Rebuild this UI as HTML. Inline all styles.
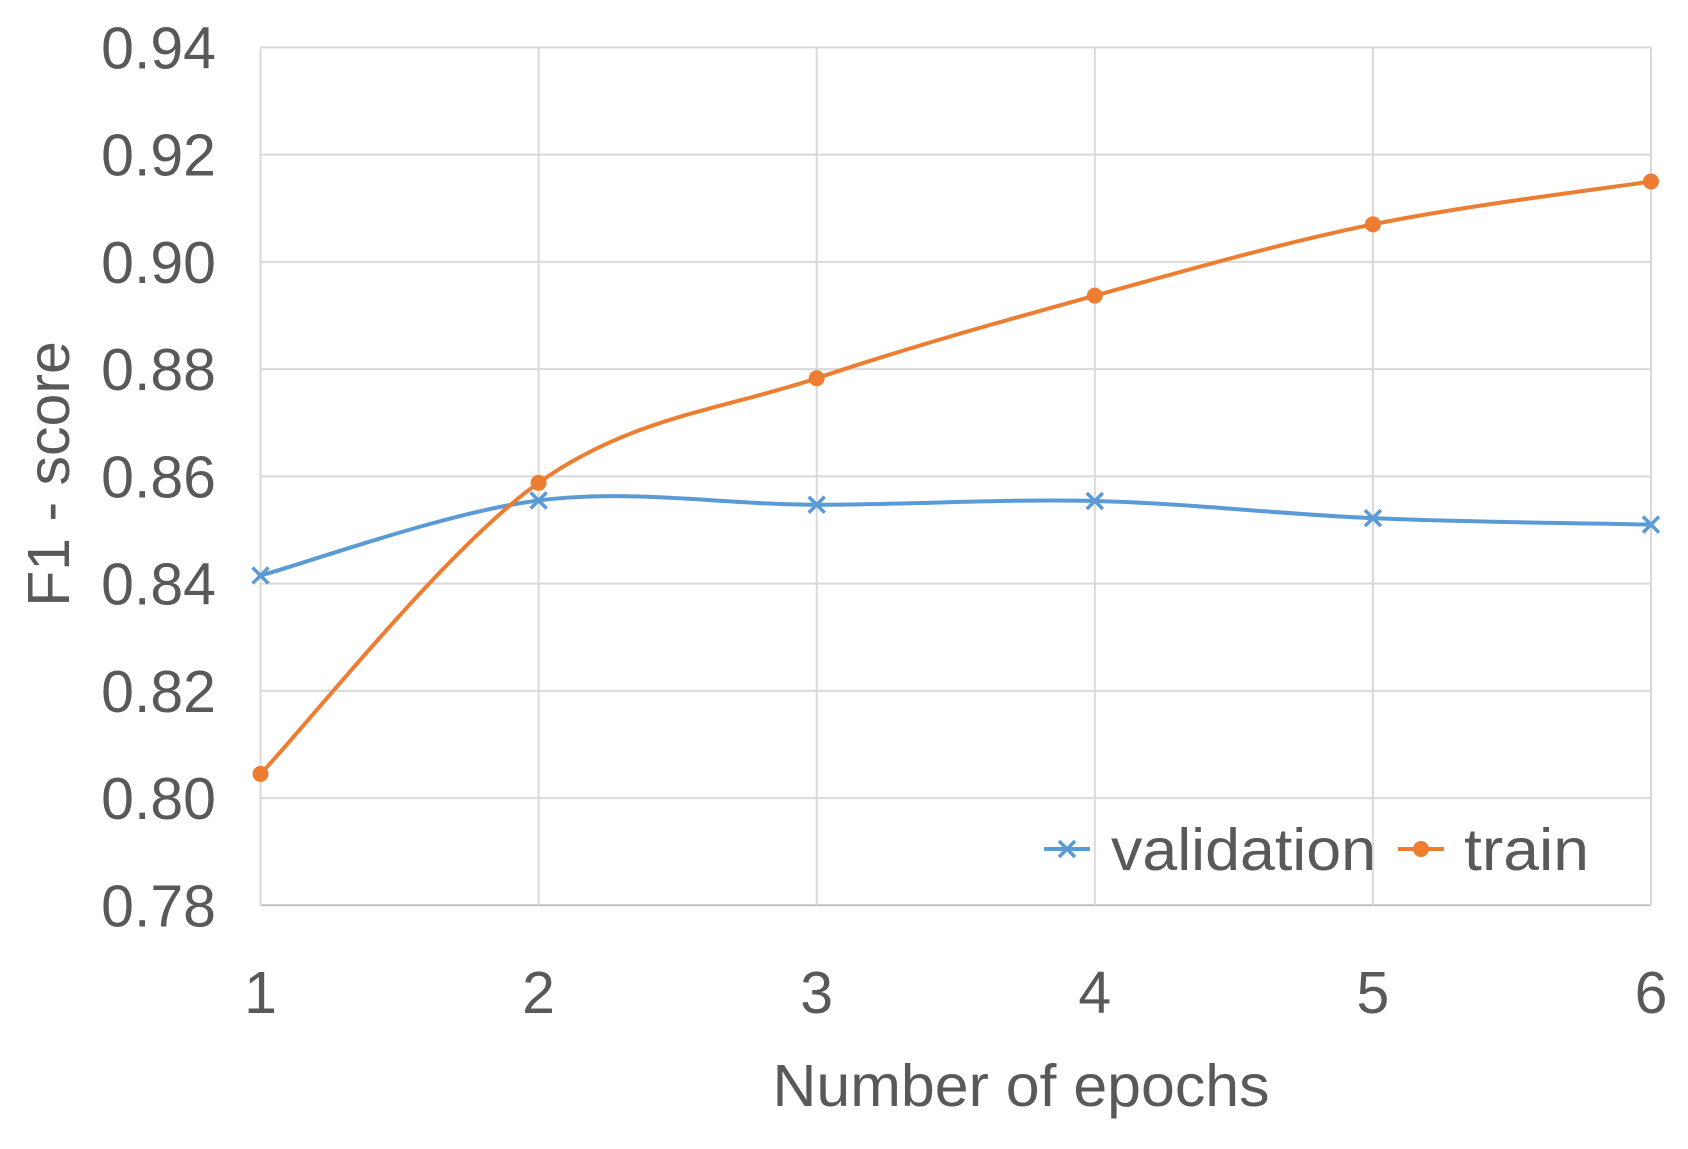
<!DOCTYPE html>
<html><head><meta charset="utf-8"><style>
html,body{margin:0;padding:0;background:#fff;}
svg{display:block;font-family:"Liberation Sans",sans-serif;}
</style></head><body>
<svg id="chart" width="1688" height="1149" viewBox="0 0 1688 1149"></svg>
<script>
const categories=[1,2,3,4,5,6];
const validationValues=[0.8415,0.8555,0.8547,0.8554,0.8522,0.851];
const trainValues=[0.8045,0.8588,0.8783,0.8937,0.907,0.915];
const yTickLabels=["0.78","0.80","0.82","0.84","0.86","0.88","0.90","0.92","0.94"];
const yTickValues=[0.78,0.80,0.82,0.84,0.86,0.88,0.90,0.92,0.94];

const L=260.5,R=1651,T=47.4,B=905.3,yMin=0.78,yMax=0.94;
const NS="http://www.w3.org/2000/svg";
const svg=document.getElementById('chart');
function x(c){return L+(c-categories[0])/(categories[categories.length-1]-categories[0])*(R-L);}
function y(v){return B-(v-yMin)/(yMax-yMin)*(B-T);}
function mk(t,a){const e=document.createElementNS(NS,t);for(const k in a)e.setAttribute(k,a[k]);svg.appendChild(e);return e;}

yTickValues.forEach((v,i)=>{
  const g=mk('line',{x1:L,x2:R,y1:y(v),y2:y(v),stroke:i===0?'#bfbfbf':'#d9d9d9','stroke-width':2});
  
  
  const t=mk('text',{x:216,y:y(v)+21,'text-anchor':'end','font-size':59,fill:'#595959'});
  t.textContent=yTickLabels[i];
  
  
});
categories.forEach(c=>{
  const g=mk('line',{x1:x(c),x2:x(c),y1:T,y2:B,stroke:'#d9d9d9','stroke-width':2});
  
  
  const t=mk('text',{x:x(c),y:1013,'text-anchor':'middle','font-size':59,fill:'#595959'});
  t.textContent=String(c);
  
  
});

function smooth(vals){
  const p=vals.map((v,i)=>[x(categories[i]),y(v)]);
  let d=`M${p[0][0]},${p[0][1]}`;
  for(let i=0;i<p.length-1;i++){
    const p0=p[Math.max(i-1,0)],p1=p[i],p2=p[i+1],p3=p[Math.min(i+2,p.length-1)];
    const k=1/6;
    d+=` C${p1[0]+(p2[0]-p0[0])*k},${p1[1]+(p2[1]-p0[1])*k} ${p2[0]-(p3[0]-p1[0])*k},${p2[1]-(p3[1]-p1[1])*k} ${p2[0]},${p2[1]}`;
  }
  return d;
}
const vl=mk('path',{d:smooth(validationValues),fill:'none',stroke:'#5B9BD5','stroke-width':4});


const tl=mk('path',{d:smooth(trainValues),fill:'none',stroke:'#ED7D31','stroke-width':4});



function cross(cx,cy,name){
  const s=8;
  const p=mk('path',{d:`M${cx-s},${cy-s}L${cx+s},${cy+s}M${cx-s},${cy+s}L${cx+s},${cy-s}`,stroke:'#5B9BD5','stroke-width':3.5});
  
  
}
validationValues.forEach((v,i)=>cross(x(categories[i]),y(v),'validation-point'));
trainValues.forEach((v,i)=>{
  const c=mk('circle',{cx:x(categories[i]),cy:y(v),r:8,fill:'#ED7D31'});
  
  
});

// legend
const lv=mk('line',{x1:1044,x2:1090,y1:849,y2:849,stroke:'#5B9BD5','stroke-width':4});


cross(1067,849,'legend-validation-marker');
const lvt=mk('text',{x:1111,y:870,'font-size':59,fill:'#595959',textLength:265,lengthAdjust:'spacingAndGlyphs'});
lvt.textContent='validation';


const lt=mk('line',{x1:1398,x2:1444,y1:849,y2:849,stroke:'#ED7D31','stroke-width':4});


const lc=mk('circle',{cx:1421,cy:849,r:8,fill:'#ED7D31'});


const ltt=mk('text',{x:1464,y:870,'font-size':59,fill:'#595959',textLength:125,lengthAdjust:'spacingAndGlyphs'});
ltt.textContent='train';



const xt=mk('text',{x:1021,y:1106,'text-anchor':'middle','font-size':59,fill:'#595959',textLength:497,lengthAdjust:'spacingAndGlyphs'});
xt.textContent='Number of epochs';


const yt=mk('text',{x:0,y:0,'text-anchor':'middle','font-size':59,fill:'#595959',transform:'translate(69,474) rotate(-90)'});
yt.textContent='F1 - score';


</script>
</body></html>
